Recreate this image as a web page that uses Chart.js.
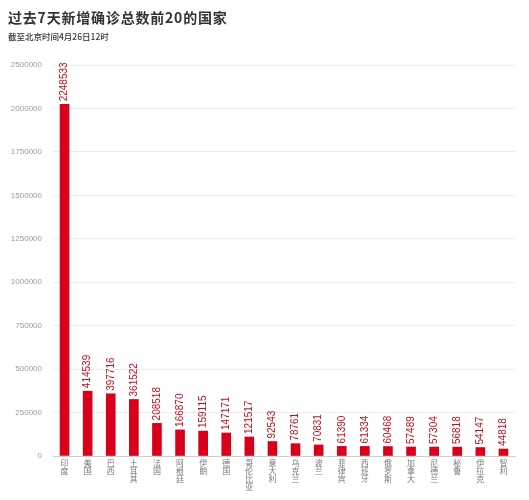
<!DOCTYPE html>
<html>
<head>
<meta charset="utf-8">
<script src="https://cdn.jsdelivr.net/npm/chart.js@4.4.0/dist/chart.umd.min.js"></script>
<style>
  html, body { margin: 0; padding: 0; background: #fff; }
  #wrap { position: relative; width: 529px; height: 500px; overflow: hidden; }
  #title { position: absolute; left: 8px; top: 7px; font: bold 14px "Noto Sans CJK SC", sans-serif; letter-spacing: 0.8px; color: #333; white-space: nowrap; }
  #sub { position: absolute; left: 8px; top: 30px; font: 500 8.5px "Noto Sans CJK SC", sans-serif; color: #333; white-space: nowrap; }
  canvas { position: absolute; left: 0; top: 0; }
</style>
</head>
<body>
<div id="wrap">
  <canvas id="c" width="529" height="500"></canvas>
  <div id="title">过去7天新增确诊总数前20的国家</div>
  <div id="sub">截至北京时间4月26日12时</div>
</div>
<script>
const countries = ["印度","美国","巴西","土耳其","法国","阿根廷","伊朗","德国","哥伦比亚","意大利","乌克兰","波兰","菲律宾","西班牙","俄罗斯","加拿大","尼德兰","秘鲁","伊拉克","智利"];
const newCases = [2248533,414539,397716,361522,208518,166870,159115,147171,121517,92543,78761,70831,61390,61334,60468,57489,57304,56818,54147,44818];
const yTickLabels = ["0","250000","500000","750000","1000000","1250000","1500000","1750000","2000000","2500000"];
const yMax = 2500000;

const barLabels = {
  id: 'barLabels',
  afterDatasetsDraw(chart) {
    const ctx = chart.ctx;
    const meta = chart.getDatasetMeta(0);
    ctx.save();
    ctx.fillStyle = '#c20f1c';
    ctx.font = '500 10px "Liberation Sans", Arial, sans-serif';
    ctx.textAlign = 'left';
    ctx.textBaseline = 'middle';
    meta.data.forEach((bar, i) => {
      ctx.save();
      ctx.translate(bar.x, bar.y - 3);
      ctx.rotate(-Math.PI / 2);
      ctx.fillText(String(newCases[i]), 0, 0);
      ctx.restore();
    });
    ctx.restore();
  }
};

// vertical (stacked-character) category labels placed via the x scale
const verticalCategoryLabels = {
  id: 'verticalCategoryLabels',
  afterDraw(chart) {
    const ctx = chart.ctx;
    const xs = chart.scales.x;
    ctx.save();
    ctx.fillStyle = '#777';
    ctx.font = '8px "Noto Sans CJK SC", sans-serif';
    ctx.textAlign = 'center';
    ctx.textBaseline = 'top';
    chart.data.labels.forEach((lab, i) => {
      const x = xs.getPixelForTick(i);
      lab.split('').forEach((ch, j) => {
        ctx.fillText(ch, x, xs.top + 2.5 + j * 8);
      });
    });
    ctx.restore();
  }
};

new Chart(document.getElementById('c'), {
  type: 'bar',
  data: {
    labels: countries,
    datasets: [{
      data: newCases,
      backgroundColor: '#d9001b',
      barThickness: 9
    }]
  },
  options: {
    responsive: false,
    animation: false,
    layout: { padding: { top: 65, right: 14, left: 0, bottom: 44 } },
    plugins: { legend: { display: false }, tooltip: { enabled: false } },
    scales: {
      x: {
        grid: { display: false, drawTicks: false },
        border: { display: true, color: '#cfcfcf' },
        ticks: { display: false }
      },
      y: {
        min: 0,
        max: yMax,
        grid: { color: '#ececec', drawTicks: false },
        border: { display: false },
        afterBuildTicks: (s) => {
          s.ticks = yTickLabels.map((l, i) => ({ value: i * yMax / (yTickLabels.length - 1) }));
        },
        ticks: {
          color: '#9a9a9a',
          font: { family: '"Liberation Sans", Arial, sans-serif', size: 8 },
          padding: 11,
          callback: (v, i) => yTickLabels[i]
        },
        afterFit: (s) => { s.width = 53; }
      }
    }
  },
  plugins: [barLabels, verticalCategoryLabels]
});
</script>
</body>
</html>
